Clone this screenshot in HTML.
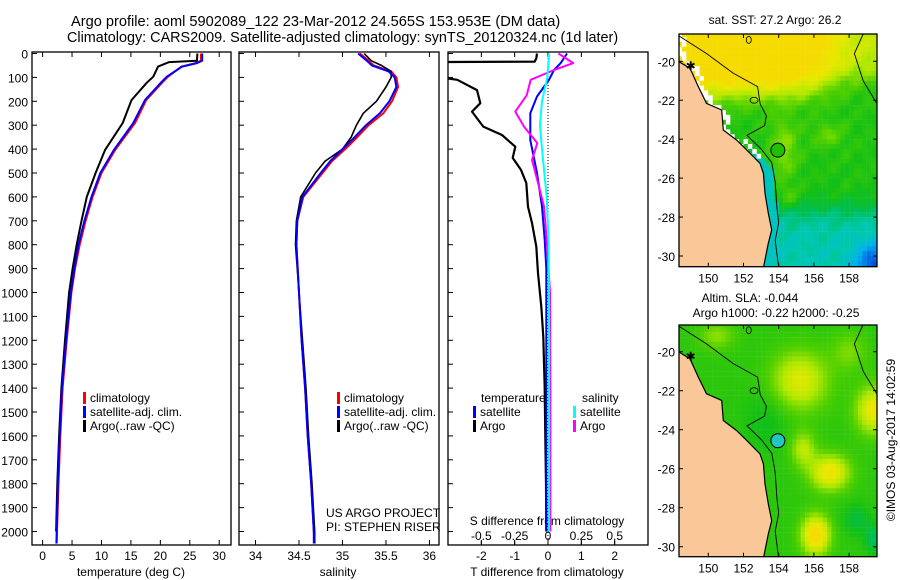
<!DOCTYPE html>
<html><head><meta charset="utf-8"><style>
body{margin:0;background:#fff;}
svg{display:block;font-family:"Liberation Sans",sans-serif;}
text{fill:#000;}
</style></head><body>
<svg id="fig" width="900" height="580" viewBox="0 0 900 580">
<defs>
<clipPath id="c3"><rect x="448" y="52" width="200" height="493"/></clipPath>
<clipPath id="m1c"><rect x="679" y="34" width="198" height="232.7"/></clipPath>
<clipPath id="m2c"><rect x="679" y="325" width="198" height="231.7"/></clipPath>
</defs>
<text x="71" y="26" font-size="14.6">Argo profile: aoml 5902089_122 23-Mar-2012 24.565S 153.953E (DM data)</text>
<text x="67" y="42" font-size="14.4">Climatology: CARS2009. Satellite-adjusted climatology: synTS_20120324.nc (1d later)</text>
<g id="g"></g>
</svg>
<script>
// ---- data ----
const depthsT = [0,30,40,55,97,122,195,291,404,500,600,700,800,900,1000,1200,1400,1600,1800,2000,2050];
const tempClim = [26.9,26.9,26.0,23.6,21.3,20.3,17.6,15.7,12.3,10.0,8.5,7.3,6.3,5.5,4.9,4.1,3.4,3.0,2.7,2.45,2.4];
const tempSat  = [27.1,27.1,26.2,23.7,21.1,20.1,17.4,15.4,12.1,9.8,8.3,7.1,6.1,5.4,4.8,4.0,3.3,2.9,2.6,2.4,2.35];
const depthsA = [0,30,36,55,97,122,195,291,404,500,600,700,800,900,1000,1200,1400,1600,1800,2000];
const tempArgo = [26.3,26.2,21.5,19.6,18.8,17.7,15.1,13.6,10.6,9.0,7.5,6.6,5.8,5.1,4.5,3.8,3.2,2.8,2.5,2.3];
const depthsS = [0,30,50,75,100,140,200,250,300,350,400,450,500,600,700,800,1000,1200,1400,1600,1800,2000,2050];
const salClim = [35.20,35.30,35.36,35.56,35.62,35.64,35.57,35.47,35.30,35.17,35.03,34.88,34.77,34.55,34.48,34.47,34.50,34.53,34.57,34.60,34.64,34.67,34.68];
const salSat  = [35.18,35.28,35.34,35.53,35.60,35.62,35.54,35.43,35.27,35.14,35.00,34.86,34.75,34.54,34.48,34.47,34.50,34.53,34.57,34.60,34.64,34.67,34.67];
const salArgo = [35.25,35.33,35.45,35.56,35.56,35.50,35.39,35.24,35.16,35.10,35.00,34.80,34.69,34.52,34.47,34.46,34.50,34.54,34.58,34.61,34.65,34.68,34.68];
const depthsD = [0,20,34,36,95,110,153,208,243,306,341,390,437,487,542,641,709,808,919,1059,1185,1400,1600,1800,2000];
const dTArgo = [-0.33,-0.35,-0.4,-3.5,-3.5,-2.72,-2.13,-2.03,-2.28,-1.94,-1.38,-0.98,-1.06,-0.81,-0.65,-0.6,-0.48,-0.35,-0.3,-0.2,-0.14,-0.1,-0.08,-0.06,-0.05];
const depthsD2 = [0,40,69,110,180,250,362,500,640,780,900,1200,1600,2000];
const dTSat = [0.57,0.38,0.18,0.03,-0.33,-0.53,-0.53,-0.33,-0.18,-0.1,-0.05,-0.05,-0.05,-0.05];
const depthsDS = [0,40,69,110,175,243,306,375,445,530,640,780,1000,1400,2000];
const dSArgo = [0.078,0.19,0.045,-0.13,-0.16,-0.245,-0.18,-0.08,-0.12,-0.08,-0.03,-0.01,0.015,0.018,0.018];
const depthsDS2 = [0,100,200,300,400,600,800,1200,2000];
const dSSat = [0.008,-0.005,-0.045,-0.06,-0.045,-0.01,0.005,0.008,0.008];
const depthTicks = [0,100,200,300,400,500,600,700,800,900,1000,1100,1200,1300,1400,1500,1600,1700,1800,1900,2000];
const tTicks = [0,5,10,15,20,25,30];
const sTicks = [34,34.5,35,35.5,36];
const sTickLabels = ["34","34.5","35","35.5","36"];
const dTTicks = [-2,-1,0,1,2];
const dSTicks = [-0.5,-0.25,0,0.25,0.5];
const dSTickLabels = ["-0.5","-0.25","0","0.25","0.5"];
const lonTicks = [150,152,154,156,158];
const latTicks = [-20,-22,-24,-26,-28,-30];
const coastLat = [-18.5,-20.02,-20.36,-21.3,-22.16,-22.5,-23.53,-24.04,-24.55,-25.24,-25.75,-26.78,-27.8,-28.66,-29.35,-30.6];
const coastLon = [148.2,148.34,148.96,149.43,149.9,150.76,150.85,151.6,152.18,152.94,153.13,153.22,153.41,153.6,153.41,153.13];
const isoLat = [-18.7,-19.6,-20.6,-21.3,-22.2,-22.8,-23.3,-23.8,-24.5,-25.2,-26.2,-27.5,-28.3,-29.2,-30.6];
const isoLon = [148.34,149.9,151.4,152.8,152.95,153.3,153.2,152.2,153.0,153.6,153.8,153.9,154.0,153.8,154.0];
const argoLon = 153.953, argoLat = -24.565;

const NS="http://www.w3.org/2000/svg";
const G=document.getElementById('g');
function mk(tag,at,parent){const e=document.createElementNS(NS,tag);for(const k in at)e.setAttribute(k,at[k]);(parent||G).appendChild(e);return e;}
const yD=d=>53.5+d*0.239;
const P1={x0:32,x1:231,min:-1.8,max:32}, P2={x0:239,x1:439,min:33.81,max:36.11}, P3={x0:448,x1:648,min:-3,max:3};
const xf=(P,v)=>P.x0+(v-P.min)/(P.max-P.min)*(P.x1-P.x0);
const xS3=v=>xf(P3,v*4);

function line(P,depths,vals,color,w,name,fx,clip){
  const f=fx||(v=>xf(P,v));
  let d='';depths.forEach((z,i)=>{d+=(i?'L':'M')+f(vals[i]).toFixed(1)+' '+yD(z).toFixed(1);});
  const e=mk('path',{d:d,fill:'none',stroke:color,'stroke-width':w,'stroke-linejoin':'round'});
  if(clip)e.setAttribute('clip-path',clip);
  
  
}
function box(P,name){
  const e=mk('rect',{x:P.x0,y:52,width:P.x1-P.x0,height:493,fill:'none',stroke:'#000','stroke-width':1.3});
  
  
  depthTicks.forEach(d=>{mk('line',{x1:P.x0,x2:P.x0+5,y1:yD(d),y2:yD(d),stroke:'#000'});});
}
function txt(x,y,s,size,anchor,name,extra){
  const e=mk('text',Object.assign({x:x,y:y,'font-size':size||12,'text-anchor':anchor||'start'},extra||{}));
  e.textContent=s;
  
  
  return e;
}
box(P1,'temperature-panel');box(P2,'salinity-panel');box(P3,'difference-panel');
depthTicks.forEach(d=>{txt(28,yD(d)+5,String(d),12,'end','depth-tick-label');});
tTicks.forEach(v=>{const x=xf(P1,v);mk('line',{x1:x,x2:x,y1:545,y2:540,stroke:'#000'});mk('line',{x1:x,x2:x,y1:52,y2:57,stroke:'#000'});txt(x,560,String(v),12,'middle','temperature-tick-label');});
sTicks.forEach((v,i)=>{const x=xf(P2,v);mk('line',{x1:x,x2:x,y1:545,y2:540,stroke:'#000'});mk('line',{x1:x,x2:x,y1:52,y2:57,stroke:'#000'});txt(x,560,sTickLabels[i],12,'middle','salinity-tick-label');});
dTTicks.forEach(v=>{const x=xf(P3,v);mk('line',{x1:x,x2:x,y1:545,y2:540,stroke:'#000'});mk('line',{x1:x,x2:x,y1:52,y2:57,stroke:'#000'});txt(x,560,String(v),12,'middle','t-diff-tick-label');});
dSTicks.forEach((v,i)=>{const x=xS3(v);mk('line',{x1:x,x2:x,y1:545,y2:541,stroke:'#000'});txt(x,540,dSTickLabels[i],12,'middle','s-diff-tick-label');});
txt(131,576,'temperature (deg C)',12,'middle','temperature-axis-title');
txt(338,576,'salinity',12,'middle','salinity-axis-title');
txt(547,576,'T difference from climatology',12,'middle','t-diff-axis-title');
txt(547,525,'S difference from climatology',12,'middle','s-diff-axis-title');
mk('line',{x1:xf(P3,0),x2:xf(P3,0),y1:52,y2:545,stroke:'#000','stroke-dasharray':'1 2','stroke-width':1});
line(P1,depthsT,tempClim,'#ff0000',2,'temperature-climatology-line');
line(P1,depthsA,tempArgo,'#000000',2,'temperature-argo-line');
line(P1,depthsT,tempSat,'#0000ff',2,'temperature-satellite-line');
line(P2,depthsS,salClim,'#ff0000',2,'salinity-climatology-line');
line(P2,depthsS,salArgo,'#000000',1.6,'salinity-argo-line');
line(P2,depthsS,salSat,'#0000ff',2,'salinity-satellite-line');
line(P3,depthsD,dTArgo,'#000000',2.2,'t-diff-argo-line',null,'url(#c3)');
line(P3,depthsD2,dTSat,'#0000ff',2,'t-diff-satellite-line',null,'url(#c3)');
line(P3,depthsDS,dSArgo,'#ff00ff',2,'s-diff-argo-line',xS3,'url(#c3)');
line(P3,depthsDS2,dSSat,'#00ffff',2,'s-diff-satellite-line',xS3,'url(#c3)');
function leg(x,y,color,label,name){mk('rect',{x:x,y:y-10,width:3,height:12,fill:color});txt(x+7,y,label,12,'start',name);}
leg(83,402,'#ff0000','climatology','legend-climatology');
leg(83,416,'#0000ff','satellite-adj. clim.','legend-satellite');
leg(83,430,'#000000','Argo(..raw -QC)','legend-argo');
leg(337,402,'#ff0000','climatology','legend2-climatology');
leg(337,416,'#0000ff','satellite-adj. clim.','legend2-satellite');
leg(337,430,'#000000','Argo(..raw -QC)','legend2-argo');
txt(481,402,'temperature',12,'start','legend3-temperature-heading');
txt(582,402,'salinity',12,'start','legend3-salinity-heading');
leg(473,416,'#0000ff','satellite','legend3-t-satellite');
leg(473,430,'#000000','Argo','legend3-t-argo');
leg(573,416,'#00ffff','satellite','legend3-s-satellite');
leg(573,430,'#ff00ff','Argo','legend3-s-argo');
txt(326,517,'US ARGO PROJECT',12,'start','project-credit');
txt(326,531,'PI: STEPHEN RISER',12,'start','pi-credit');

// ---- maps ----
const lonX=lon=>708.3+(lon-150)*17.6;
const M1={top:34,bot:266.7,ly:lat=>61.3+(-20-lat)*19.47,clip:'url(#m1c)'};
const M2={top:325,bot:556.7,ly:lat=>351.7+(-20-lat)*19.5,clip:'url(#m2c)'};
const stops=[[0,[0,32,160]],[0.12,[0,96,224]],[0.22,[0,176,240]],[0.32,[0,200,176]],[0.42,[0,190,80]],[0.5,[20,192,20]],[0.6,[80,208,0]],[0.7,[176,232,0]],[0.8,[232,232,0]],[0.9,[248,216,0]],[1,[240,184,0]]];
function cmap(v){v=Math.max(0,Math.min(1,v));for(let i=1;i<stops.length;i++){if(v<=stops[i][0]){const a=stops[i-1],b=stops[i],t=(v-a[0])/(b[0]-a[0]);return 'rgb('+a[1].map((c,k)=>Math.round(c+(b[1][k]-c)*t)).join(',')+')';}}return 'rgb(240,184,0)';}
function interp(xs,ys,x){for(let i=1;i<xs.length;i++){if(x>=xs[i]){const t=(x-xs[i-1])/(xs[i]-xs[i-1]);return ys[i-1]+t*(ys[i]-ys[i-1]);}}return ys[ys.length-1];}
const cLon=lat=>interp(coastLat,coastLon,lat);
const sig=x=>1/(1+Math.exp(-x));
const gs=(lon,lat,a,b,sx,sy)=>Math.exp(-(Math.pow((lon-a)/sx,2)+Math.pow((lat-b)/sy,2)));
function sst(lon,lat){
  let v=0.52+0.32*sig((lat+21.8)*2.5)*sig((156.5-lon)*1.2)+0.2*sig((lat+20.8)*3);
  v+=0.14*gs(lon,lat,154.3,-24.5,0.8,1.5)+0.1*gs(lon,lat,156.8,-23.8,0.9,0.6)+0.08*gs(lon,lat,154.6,-27,0.6,0.6);
  v-=0.2*sig((-27.6-lat)*2.5);
  v-=0.25*gs(lon,lat,159.6,-30.6,1.2,1.2);
  v+=0.02*Math.sin(lon*5.1+1)*Math.cos(lat*4.3)+0.015*Math.sin(lon*2.7-lat*3.9);
  if(lat<-24.7&&lon<cLon(lat)+0.55)v=0.3;
  return Math.min(v,0.88);
}
function sla(lon,lat){
  let v=0.54;
  v+=0.24*gs(lon,lat,155.2,-21.5,1.6,1.5)+0.28*gs(lon,lat,159.4,-23.0,1.0,1.2)+0.3*gs(lon,lat,156.9,-26.2,1.1,0.9)+0.36*gs(lon,lat,156.1,-29.4,0.8,1.0)+0.18*gs(lon,lat,155.4,-25.0,0.7,0.9)+0.12*gs(lon,lat,150.5,-19.2,1.0,0.7)+0.1*gs(lon,lat,158,-20,1,1);
  v-=0.06*gs(lon,lat,153.3,-23.5,1.2,1.5)+0.1*gs(lon,lat,158.4,-28.6,0.7,0.7)+0.14*gs(lon,lat,159.4,-29.6,0.5,0.7);
  return v;
}
function drawMap(M,fn,name,circleFill){
  const g=mk('g',{'clip-path':M.clip});
  
  
  const st=0.25;
  for(let lat=-18.5;lat>-30.75;lat-=st){for(let lon=148.25;lon<159.75;lon+=st){
    const cl=lon+st/2,ca=lat-st/2;let col=cmap(fn(cl,ca));
    if(fn===sst&&ca>-24.9&&cl<cLon(ca)+0.45&&cl>cLon(ca)-0.3&&((Math.floor(cl*4)+Math.floor(ca*4))%3!==0))col='#fff';
    mk('rect',{x:lonX(lon).toFixed(1),y:M.ly(lat).toFixed(1),width:4.6,height:5.1,fill:col},g);
  }}
  let d='M'+lonX(147)+' '+M.ly(-18);
  coastLat.forEach((la,i)=>{d+='L'+lonX(coastLon[i]).toFixed(1)+' '+M.ly(la).toFixed(1);});
  d+='L'+lonX(147)+' '+M.ly(-31)+'Z';
  const land=mk('path',{d:d,fill:'#fac898',stroke:'#000','stroke-width':1.2},g);
  
  
  let d2='';isoLat.forEach((la,i)=>{d2+=(i?'L':'M')+lonX(isoLon[i]).toFixed(1)+' '+M.ly(la).toFixed(1);});
  mk('path',{d:d2,fill:'none',stroke:'#000','stroke-width':0.9},g);
  mk('path',{d:'M'+lonX(158.8)+' '+M.ly(-18.6)+'L'+lonX(158.3)+' '+M.ly(-19.6)+'L'+lonX(158.8)+' '+M.ly(-21)+'L'+lonX(159.6)+' '+M.ly(-22.2),fill:'none',stroke:'#000','stroke-width':0.9},g);
  mk('ellipse',{cx:lonX(152.3),cy:M.ly(-18.9),rx:2.5,ry:3.5,fill:'none',stroke:'#000','stroke-width':0.8},g);
  mk('ellipse',{cx:lonX(152.6),cy:M.ly(-22.0),rx:4,ry:3,fill:'none',stroke:'#000','stroke-width':0.8},g);
  const s=mk('text',{x:lonX(149),y:M.ly(-20.2)+5,'font-size':12,'text-anchor':'middle'},g);
  s.textContent='✱';
  
  
  const c=mk('circle',{cx:lonX(argoLon),cy:M.ly(argoLat),r:7,fill:circleFill,stroke:'#000','stroke-width':1});
  
  
  mk('rect',{x:679,y:M.top,width:198,height:M.bot-M.top,fill:'none',stroke:'#000','stroke-width':1.3});
  lonTicks.forEach(l=>{const x=lonX(l);mk('line',{x1:x,x2:x,y1:M.bot,y2:M.bot-4,stroke:'#000'});mk('line',{x1:x,x2:x,y1:M.top,y2:M.top+4,stroke:'#000'});txt(x,M.bot+16,String(l),12,'middle',name+'-lon-label');});
  latTicks.forEach(l=>{const y=M.ly(l);mk('line',{x1:679,x2:683,y1:y,y2:y,stroke:'#000'});mk('line',{x1:877,x2:873,y1:y,y2:y,stroke:'#000'});txt(675,y+5,String(l),12,'end',name+'-lat-label');});
}
drawMap(M1,sst,'sst-map','#20c000');
drawMap(M2,sla,'sla-map','#20c8c0');
txt(775,24,'sat. SST: 27.2 Argo: 26.2',12,'middle','sst-map-title');
txt(750,302,'Altim. SLA: -0.044',12,'middle','sla-map-title');
txt(776,317,'Argo h1000: -0.22 h2000: -0.25',12,'middle','argo-height-title');
txt(0,0,'©IMOS 03-Aug-2017 14:02:59',12,'middle','timestamp',{transform:'translate(895,440) rotate(-90)'});
</script>
</body></html>
